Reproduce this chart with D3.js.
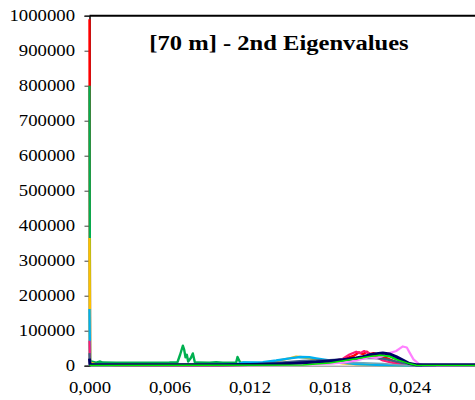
<!DOCTYPE html>
<html>
<head>
<meta charset="utf-8">
<script src="https://cdn.jsdelivr.net/npm/d3@7"></script>
<style>
  html, body { margin: 0; padding: 0; background: #fff; overflow: hidden; }
  svg { display: block; }
  text { font-family: "Liberation Serif", "Times New Roman", serif; fill: #000; }
</style>
</head>
<body>
<svg id="chart" width="475" height="400"></svg>
<script>
// Eigenvalue distributions, [x, count] pairs per series
const redPts = [[0,990000],[0.00004,5000],[0.002,2000],[0.01,2000],[0.014,3000],[0.016,6000],[0.018,12000],[0.019,18000],[0.0198,28000],[0.0202,38000],[0.0205,33000],[0.0208,40000],[0.021,33000],[0.0213,36000],[0.0217,30000],[0.022,26000],[0.0225,18000],[0.023,10000],[0.024,3000],[0.0245,500],[0.03,300]];
const greenPts = [[0,800000],[0.00004,13000],[0.0005,9000],[0.0008,12000],[0.001,9000],[0.002,8500],[0.004,8500],[0.006,9000],[0.0066,10000],[0.0068,32000],[0.0070,57000],[0.0071,46000],[0.0072,24000],[0.0073,31000],[0.0074,12000],[0.0076,22000],[0.00775,35000],[0.0079,10000],[0.008,9000],[0.009,8500],[0.0095,10000],[0.010,8500],[0.011,9000],[0.0111,25000],[0.0113,9000],[0.012,8000],[0.014,6000],[0.016,6000],[0.018,10000],[0.020,20000],[0.021,26000],[0.022,30000],[0.0225,27000],[0.023,19000],[0.024,6000],[0.0245,1000],[0.03,500]];
const yellowPts = [[0,365000],[0.00004,9000],[0.0005,4000],[0.004,3000],[0.010,3000],[0.012,4000],[0.013,7000],[0.014,13000],[0.015,21000],[0.0155,26000],[0.016,24000],[0.017,18000],[0.018,12000],[0.019,7000],[0.020,4000],[0.022,2000],[0.024,500],[0.03,300]];
const cyanPts = [[0,162000],[0.00004,4000],[0.003,2500],[0.008,2500],[0.011,4000],[0.0115,9000],[0.012,9000],[0.013,10000],[0.014,15000],[0.015,21000],[0.0158,25000],[0.0165,24000],[0.017,21000],[0.018,15000],[0.019,9000],[0.020,5000],[0.021,3000],[0.022,2000],[0.023,1000],[0.024,500],[0.03,300]];
const pinkPts = [[0,71000],[0.00004,3000],[0.004,1500],[0.014,2000],[0.016,5000],[0.018,11000],[0.019,20000],[0.0195,32000],[0.020,40000],[0.0203,36000],[0.0206,42000],[0.021,35000],[0.0215,25000],[0.022,15000],[0.023,6000],[0.024,1500],[0.03,300]];
const slatePts = [[0,36000],[0.00004,3000],[0.006,2000],[0.012,3000],[0.014,8000],[0.016,14000],[0.018,16000],[0.019,18000],[0.020,20000],[0.021,22000],[0.022,20000],[0.023,12000],[0.024,3000],[0.0245,500],[0.03,300]];
const tealPts = [[0,8000],[0.00004,1500],[0.012,1500],[0.016,4000],[0.018,6000],[0.020,9000],[0.021,8000],[0.022,6000],[0.023,3000],[0.024,800],[0.03,300]];
const violetPts = [[0,3000],[0.00004,1000],[0.014,1500],[0.016,2500],[0.018,6000],[0.019,9000],[0.020,15000],[0.021,24000],[0.0215,22000],[0.022,28000],[0.0225,36000],[0.023,42000],[0.0235,55000],[0.0238,52000],[0.024,38000],[0.0243,18000],[0.0247,5000],[0.025,1500],[0.026,500],[0.03,300]];
const navyPts = [[0,20000],[0.00004,3000],[0.002,3000],[0.006,3000],[0.010,3000],[0.012,3500],[0.013,4000],[0.014,5000],[0.015,6500],[0.016,8500],[0.017,10500],[0.018,13500],[0.019,17000],[0.020,22000],[0.0205,26000],[0.021,31000],[0.0215,34500],[0.022,36000],[0.0225,33500],[0.023,26000],[0.0235,16000],[0.024,6000],[0.0245,2500],[0.025,2500],[0.03,2500]];
const limePts = [[0,2000],[0.00004,800],[0.016,2000],[0.018,8000],[0.020,20000],[0.021,26000],[0.0218,30000],[0.0225,27000],[0.023,18000],[0.0238,8000],[0.0245,1000],[0.03,300]];

const seriesList = [
  { pts: redPts,    color: "#ff0000", w: 2.4 },
  { pts: greenPts,  color: "#00b050", w: 2.4 },
  { pts: yellowPts, color: "#ffc000", w: 2.4 },
  { pts: cyanPts,   color: "#00b0f0", w: 2.4 },
  { pts: pinkPts,   color: "#ff1a75", w: 2.2 },
  { pts: slatePts,  color: "#3f5f86", w: 2.2 },
  { pts: tealPts,   color: "#6fa8b8", w: 1.5 },
  { pts: violetPts, color: "#ff80ff", w: 2.2 },
  { pts: navyPts,   color: "#000066", w: 3 },
  { pts: limePts,   color: "#00ee00", w: 1.5 }
];

const xTicks = [0, 0.006, 0.012, 0.018, 0.024];
const yTicks = [0, 100000, 200000, 300000, 400000, 500000, 600000, 700000, 800000, 900000, 1000000];
const titleText = "[70 m] - 2nd Eigenvalues";

const svg = d3.select("#chart");
const plotLeft = 89.5, plotTop = 15.7, plotBottom = 365.7, plotRight = 489.5;
const stretch = 1.17;

const x = d3.scaleLinear().domain([0, 0.03]).range([plotLeft, plotRight]);
const y = d3.scaleLinear().domain([0, 1000000]).range([plotBottom, plotTop]);

const commaLocale = d3.formatLocale({ decimal: ",", thousands: "", grouping: [3], currency: ["", ""] });
const fmtX = commaLocale.format(".3f");

// frame top edge
svg.append("line")
  .attr("x1", plotLeft).attr("x2", 475)
  .attr("y1", plotTop).attr("y2", plotTop)
  .attr("stroke", "#000").attr("stroke-width", 2);

// x axis
const gx = svg.append("g")
  .attr("transform", `translate(0,${plotBottom})`)
  .call(d3.axisBottom(x).tickValues(xTicks).tickFormat(fmtX).tickSize(0).tickPadding(15.6));
gx.select(".domain").attr("stroke", "#868686").attr("stroke-width", 1);
gx.selectAll("text")
  .attr("font-size", 16)
  .attr("transform", `scale(${stretch},1)`);

// y axis
const gy = svg.append("g")
  .attr("transform", `translate(${plotLeft},0)`)
  .call(d3.axisLeft(y).tickValues(yTicks).tickFormat(d3.format("d")).tickSize(5));
gy.select(".domain").attr("stroke", "#000").attr("stroke-width", 1.5);
gy.selectAll(".tick line").attr("stroke", "#404040");
gy.selectAll("text")
  .attr("font-size", 16)
  .attr("x", -14.5 / stretch)
  .attr("transform", `scale(${stretch},1)`);

// series
const line = d3.line().x(d => x(d[0])).y(d => y(d[1]));
svg.append("clipPath").attr("id", "plotclip")
  .append("rect").attr("x", plotLeft - 3).attr("y", plotTop).attr("width", plotRight - plotLeft + 6).attr("height", plotBottom - plotTop + 3);
const gLines = svg.append("g").attr("clip-path", "url(#plotclip)");
seriesList.forEach(s => {
  gLines.append("path")
    .datum(s.pts)
    .attr("d", line)
    .attr("fill", "none")
    .attr("stroke", s.color)
    .attr("stroke-width", s.w)
    .attr("stroke-linejoin", "round");
});

// title
svg.append("text")
  .attr("transform", `translate(279,50) scale(${stretch},1)`)
  .attr("text-anchor", "middle")
  .attr("font-size", 21)
  .attr("font-weight", "bold")
  .text(titleText);
</script>
</body>
</html>
